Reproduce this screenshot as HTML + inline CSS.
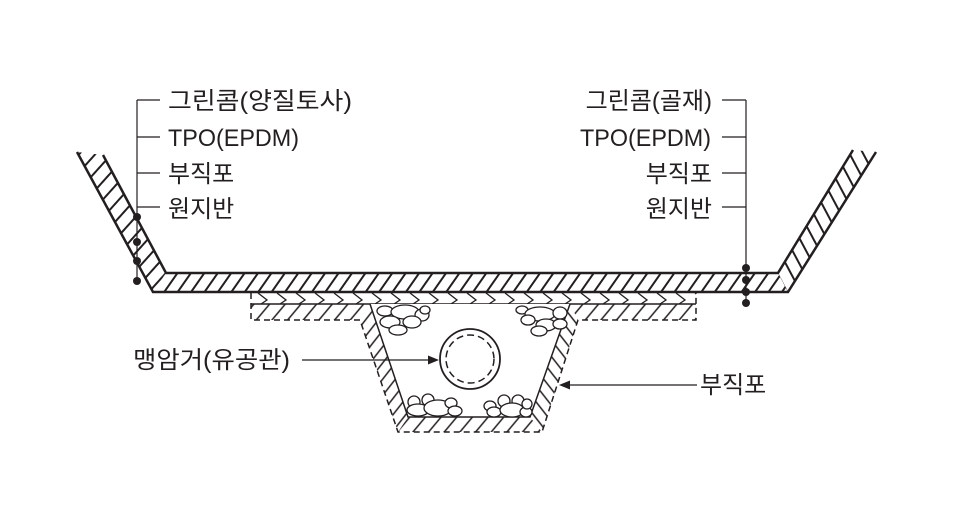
<!DOCTYPE html>
<html><head><meta charset="utf-8"><style>
html,body{margin:0;padding:0;background:#fff;}
svg{display:block;}
text{font-family:"Liberation Sans","Noto Sans CJK KR",sans-serif;font-size:24px;fill:#231f20;}
</style></head><body>
<svg width="960" height="520" viewBox="0 0 960 520" xmlns="http://www.w3.org/2000/svg">
<defs>
<pattern id="hs" patternUnits="userSpaceOnUse" width="11" height="20" patternTransform="rotate(35)">
<line x1="5" y1="-5" x2="5" y2="25" stroke="#231f20" stroke-width="2"/></pattern>
<pattern id="hl" patternUnits="userSpaceOnUse" width="12" height="20" patternTransform="rotate(42)">
<line x1="6" y1="-5" x2="6" y2="25" stroke="#231f20" stroke-width="2"/></pattern>
<pattern id="hr" patternUnits="userSpaceOnUse" width="12" height="20" patternTransform="rotate(-28)">
<line x1="6" y1="-5" x2="6" y2="25" stroke="#231f20" stroke-width="2"/></pattern>
<pattern id="hb" patternUnits="userSpaceOnUse" width="10" height="20" patternTransform="rotate(-38)">
<line x1="5" y1="-5" x2="5" y2="25" stroke="#231f20" stroke-width="1.5"/></pattern>
<pattern id="hf" patternUnits="userSpaceOnUse" width="12" height="20" patternTransform="rotate(40)">
<line x1="6" y1="-5" x2="6" y2="25" stroke="#231f20" stroke-width="1.5"/></pattern>
<pattern id="hfl" patternUnits="userSpaceOnUse" width="10" height="20" patternTransform="rotate(38)">
<line x1="5" y1="-5" x2="5" y2="25" stroke="#231f20" stroke-width="1.5"/></pattern>
<pattern id="ch" patternUnits="userSpaceOnUse" width="19" height="11" x="255" y="293">
<polyline points="3,0 12,7 6,11" fill="none" stroke="#231f20" stroke-width="1.3"/></pattern>
</defs>
<!-- main liner -->
<path d="M153,292 L788,292 L778,273 L166,273 Z" fill="url(#hs)"/>
<path d="M77,152 L153,292 L166,273 L103,155 Z" fill="url(#hl)"/>
<path d="M788,292 L876,152 L853,150 L778,273 Z" fill="url(#hr)"/>
<path d="M77,152 L153,292 L788,292 L876,152 M103,155 L166,273 L778,273 L853,150" fill="none" stroke="#231f20" stroke-width="2.5"/>
<!-- lower layer -->
<rect x="251" y="293" width="445" height="11" fill="url(#ch)"/>
<path d="M251,304 L370,304 L360,320 L251,320 Z" fill="url(#hf)"/>
<path d="M570,304 L696,304 L696,320 L578,320 Z" fill="url(#hf)"/>
<path d="M370,304 L408,417 L398,432 L360,320 Z" fill="url(#hfl)"/>
<path d="M570,304 L530,417 L542,432 L578,320 Z" fill="url(#hb)"/>
<path d="M408,417 L530,417 L542,432 L398,432 Z" fill="url(#hf)"/>
<path d="M251,293 L251,320 L360,320 L398,432 L542,432 L578,320 L696,320 L696,293" fill="none" stroke="#231f20" stroke-width="1.5" stroke-dasharray="6,4"/>
<path d="M251,304 L696,304" stroke="#231f20" stroke-width="1.5" fill="none"/>
<path d="M370,304 L408,417 L530,417 L570,304" fill="#fff" stroke="#231f20" stroke-width="1.5"/>
<!-- rocks -->
<g fill="#fff" stroke="#231f20" stroke-width="1.3">
<ellipse cx="385" cy="311" rx="8" ry="5"/><ellipse cx="405" cy="312" rx="14" ry="7"/><ellipse cx="422" cy="315" rx="7" ry="6"/><ellipse cx="390" cy="322" rx="10" ry="6"/><ellipse cx="412" cy="322" rx="9" ry="6"/><ellipse cx="398" cy="330" rx="9" ry="5"/><ellipse cx="425" cy="310" rx="5" ry="4"/>
<ellipse cx="522" cy="310" rx="6" ry="4"/><ellipse cx="540" cy="314" rx="15" ry="7"/><ellipse cx="560" cy="313" rx="7" ry="6"/><ellipse cx="528" cy="320" rx="7" ry="5"/><ellipse cx="546" cy="325" rx="10" ry="6"/><ellipse cx="560" cy="324" rx="7" ry="5"/><ellipse cx="539" cy="331" rx="8" ry="5"/>
<ellipse cx="414" cy="402" rx="6" ry="6"/><ellipse cx="428" cy="400" rx="6" ry="6"/><ellipse cx="418" cy="410" rx="11" ry="6"/><ellipse cx="438" cy="408" rx="14" ry="8"/><ellipse cx="451" cy="403" rx="6" ry="5"/><ellipse cx="455" cy="411" rx="7" ry="5"/>
<ellipse cx="490" cy="406" rx="6" ry="5"/><ellipse cx="504" cy="401" rx="6" ry="6"/><ellipse cx="518" cy="401" rx="6" ry="6"/><ellipse cx="494" cy="412" rx="7" ry="5"/><ellipse cx="512" cy="410" rx="12" ry="7"/><ellipse cx="526" cy="412" rx="6" ry="5"/><ellipse cx="527" cy="404" rx="5" ry="5"/>
</g>
<!-- pipe -->
<circle cx="470" cy="359" r="30" fill="#fff" stroke="#231f20" stroke-width="1.8"/>
<circle cx="470" cy="359" r="24" fill="none" stroke="#231f20" stroke-width="1.5" stroke-dasharray="7,4"/>
<!-- arrows -->
<line x1="302" y1="360" x2="430" y2="360" stroke="#231f20" stroke-width="1.2"/>
<polygon points="439,360 428,355.5 428,364.5" fill="#231f20"/>
<line x1="568" y1="385" x2="697" y2="385" stroke="#231f20" stroke-width="1.2"/>
<polygon points="559,385 570,380.5 570,389.5" fill="#231f20"/>
<!-- leaders -->
<g stroke="#231f20" stroke-width="1.2">
<line x1="137" y1="100" x2="137" y2="282"/>
<line x1="137" y1="100" x2="160" y2="100"/><line x1="137" y1="137" x2="160" y2="137"/>
<line x1="137" y1="173" x2="160" y2="173"/><line x1="137" y1="207" x2="160" y2="207"/>
<line x1="746" y1="100" x2="746" y2="300"/>
<line x1="722" y1="100" x2="746" y2="100"/><line x1="722" y1="137" x2="746" y2="137"/>
<line x1="722" y1="173" x2="746" y2="173"/><line x1="722" y1="207" x2="746" y2="207"/>
</g>
<g fill="#231f20">
<circle cx="137" cy="217" r="4"/><circle cx="137" cy="242" r="4"/><circle cx="137" cy="261" r="4"/><circle cx="137" cy="281" r="4"/>
<circle cx="746" cy="268" r="4"/><circle cx="746" cy="280" r="4"/><circle cx="746" cy="292" r="4"/><circle cx="746" cy="303" r="4"/>
</g>
<text x="168" y="109" textLength="184" lengthAdjust="spacingAndGlyphs">그린콤(양질토사)</text>
<text x="168" y="146" textLength="131" lengthAdjust="spacingAndGlyphs">TPO(EPDM)</text>
<text x="168" y="182">부직포</text>
<text x="168" y="217">원지반</text>
<text x="712" y="109" text-anchor="end">그린콤(골재)</text>
<text x="580" y="146" textLength="131" lengthAdjust="spacingAndGlyphs">TPO(EPDM)</text>
<text x="712" y="182" text-anchor="end">부직포</text>
<text x="712" y="217" text-anchor="end">원지반</text>
<text x="133" y="368" textLength="157" lengthAdjust="spacingAndGlyphs">맹암거(유공관)</text>
<text x="700" y="393">부직포</text>
</svg>
</body></html>
